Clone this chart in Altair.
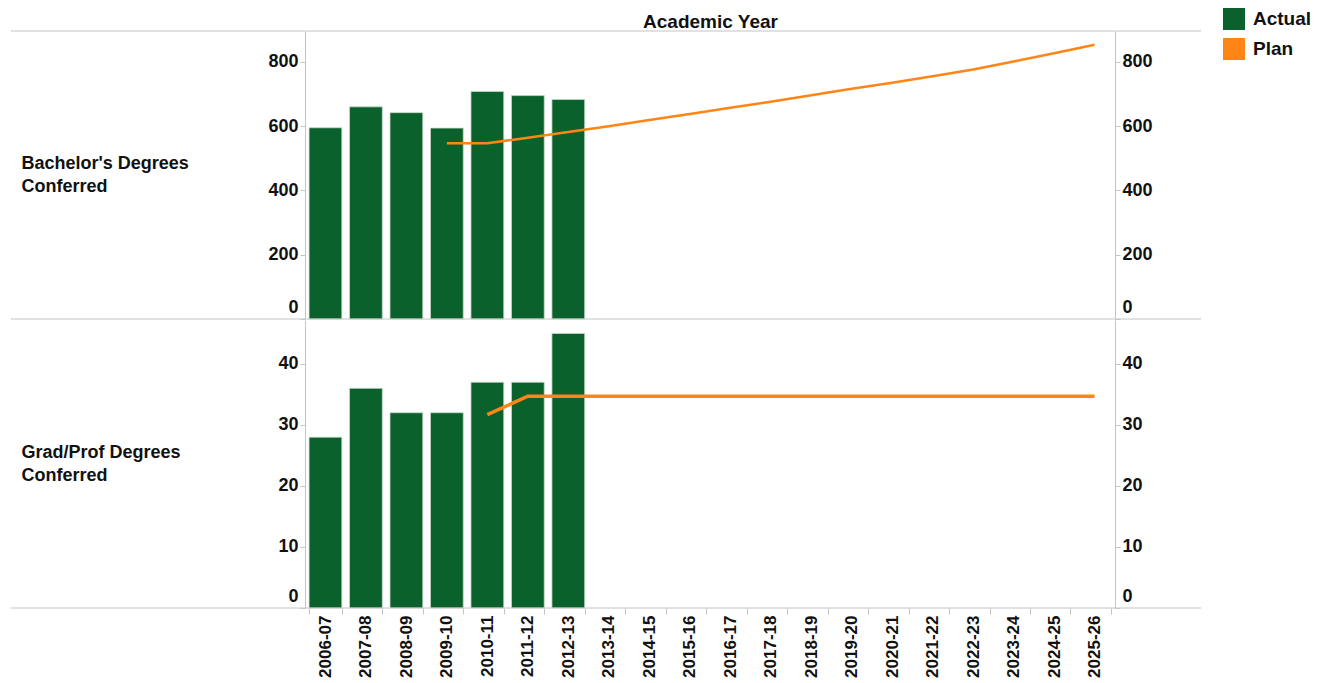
import altair as alt
import pandas as pd

years = ["2006-07", "2007-08", "2008-09", "2009-10", "2010-11", "2011-12", "2012-13",
         "2013-14", "2014-15", "2015-16", "2016-17", "2017-18", "2018-19", "2019-20",
         "2020-21", "2021-22", "2022-23", "2023-24", "2024-25", "2025-26"]
actual_years = years[:7]
bach_actual = [595, 660, 642, 594, 708, 695, 683]
grad_actual = [28, 36, 32, 32, 37, 37, 45]

bach_plan_years = years[3:]
bach_plan = [547, 547, 564, 582, 600, 619, 638, 657, 676, 696, 716, 735, 755, 776, 801, 827, 853]
grad_plan_years = years[4:]
grad_plan = [31.7, 34.7, 34.7, 34.7, 34.7, 34.7, 34.7, 34.7, 34.7, 34.7, 34.7, 34.7, 34.7, 34.7, 34.7, 34.7]

series = ["Actual", "Plan"]
GREEN = "#0b612b"
ORANGE = "#ff8516"
LINEC = "#c4c4c4"
FONT = "Liberation Sans"

W = 810


def panel(actual, plan_years, plan, domain, ticks, title, height, top, lw):
    df_a = pd.DataFrame({"year": actual_years, "value": actual, "series": "Actual"})
    df_p = pd.DataFrame({"year": plan_years, "value": plan})
    if top:
        xaxis = alt.Axis(orient="top", labels=False, ticks=False, domain=False,
                         title="Academic Year", titleFont=FONT, titleFontSize=19,
                         titleFontWeight="bold", titleColor="#111", titlePadding=0)
    else:
        xaxis = alt.Axis(orient="bottom", title=None, labelAngle=270, labelFont=FONT,
                         labelFontSize=17, labelFontWeight="bold", labelColor="#111",
                         tickBand="extent", tickColor=LINEC, tickSize=6, labelPadding=1,
                         domain=False)
    xs = alt.Scale(domain=years, paddingInner=0.19, paddingOuter=0.1)
    ys = alt.Scale(domain=domain, nice=False, zero=True)
    common = dict(values=ticks, grid=False, domainColor=LINEC, tickColor=LINEC, tickSize=5,
                  labelFont=FONT, labelFontSize=18, labelFontWeight="bold", labelColor="#111",
                  labelPadding=2, labelFlush=1, labelFlushOffset=-3)
    bars = alt.Chart(df_a).mark_bar(stroke="#c9d9cc", strokeWidth=0.8).encode(
        x=alt.X("year:N", sort=years, scale=xs, axis=xaxis),
        y=alt.Y("value:Q", scale=ys, axis=alt.Axis(
            orient="left", title=title, titleAngle=0, titleAlign="left", titleBaseline="middle",
            titleX=-284, titleY=height / 2 - 12, titleFont=FONT, titleFontSize=18,
            titleFontWeight="bold", titleColor="#111", titleLineHeight=23, **common)),
        color=alt.Color("series:N", scale=alt.Scale(domain=series, range=[GREEN, ORANGE]),
                        legend=alt.Legend(title=None, orient="none", legendX=918, legendY=-23,
                                          symbolType="square", symbolSize=484,
                                          symbolStrokeWidth=0, labelFont=FONT,
                                          labelFontSize=19, labelFontWeight="bold",
                                          labelColor="#111", rowPadding=8, labelOffset=8)),
    )
    line = alt.Chart(df_p).mark_line(color=ORANGE, strokeWidth=lw).encode(
        x=alt.X("year:N", sort=years, scale=xs, axis=xaxis),
        y=alt.Y("value:Q", scale=ys, axis=alt.Axis(orient="right", title=None, **common)),
    )
    rdf = pd.DataFrame({"k": [0]})
    layers = [bars, line]
    bottom_rule = alt.Chart(rdf).mark_rule(color=LINEC, strokeWidth=1).encode(
        x=alt.value(-294), x2=alt.value(896), y=alt.value(height))
    layers.append(bottom_rule)
    if top:
        top_rule = alt.Chart(rdf).mark_rule(color=LINEC, strokeWidth=1).encode(
            x=alt.value(-294), x2=alt.value(896), y=alt.value(0))
        layers.append(top_rule)
    return alt.layer(*layers).resolve_scale(y="independent").properties(width=W, height=height)


top_panel = panel(bach_actual, bach_plan_years, bach_plan, [0, 896], [0, 200, 400, 600, 800],
                  ["Bachelor's Degrees", "Conferred"], 288, True, 2.5)
bottom_panel = panel(grad_actual, grad_plan_years, grad_plan, [0, 47.2], [0, 10, 20, 30, 40],
                     ["Grad/Prof Degrees", "Conferred"], 288, False, 3.5)

chart = alt.vconcat(top_panel, bottom_panel, spacing=0).properties(
    padding={"left": 2, "top": 0, "right": 5, "bottom": 0}
).configure_view(stroke=None)

chart.save("out.html", embed_options={"renderer": "svg", "actions": False})
